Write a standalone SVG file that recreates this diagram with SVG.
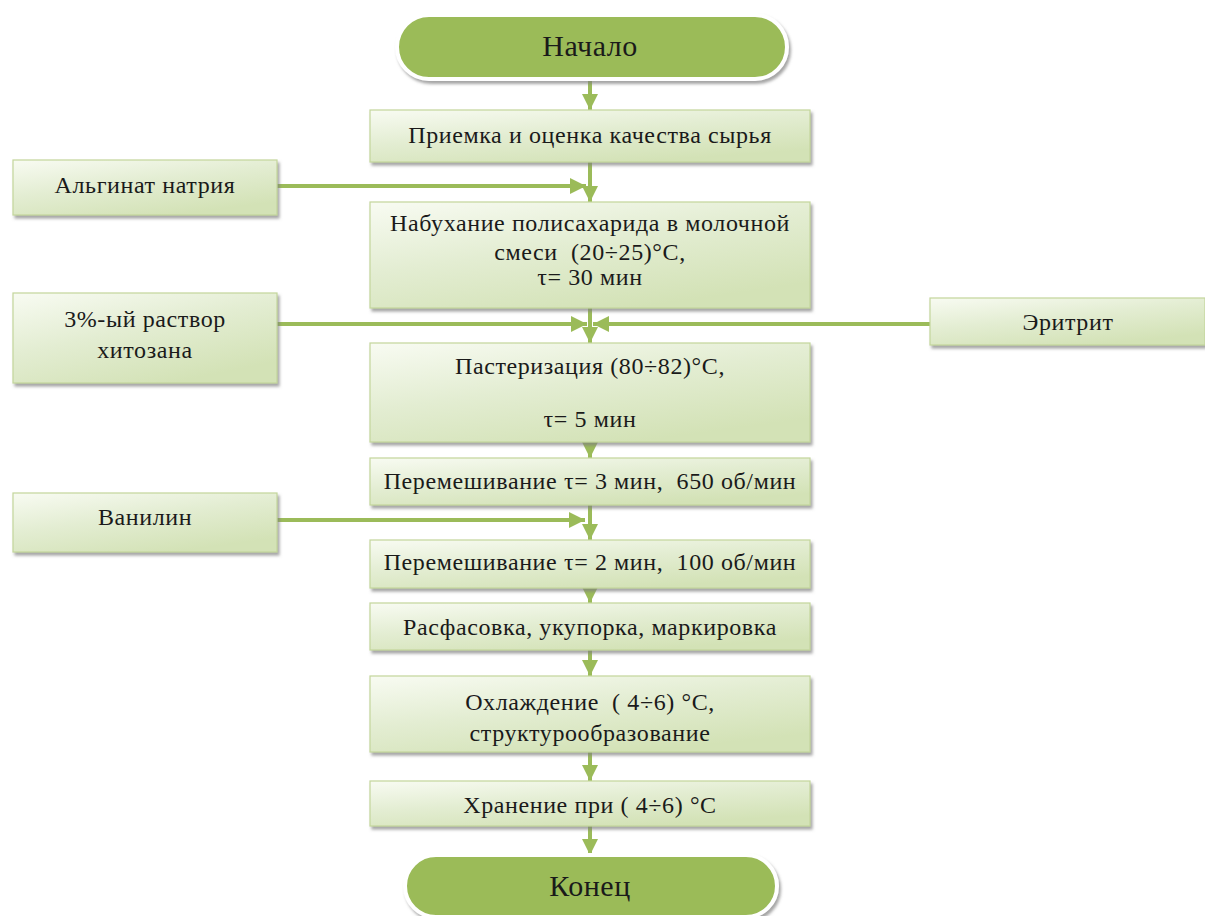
<svg xmlns="http://www.w3.org/2000/svg" width="1205" height="916" viewBox="0 0 1205 916">
<defs>
<linearGradient id="g" x1="0" y1="0" x2="0.6" y2="1">
<stop offset="0" stop-color="#f8fbf2"/>
<stop offset="0.5" stop-color="#e3edd2"/>
<stop offset="1" stop-color="#d3e2b6"/>
</linearGradient>
<filter id="sh" x="-10%" y="-20%" width="125%" height="150%">
<feDropShadow dx="2" dy="3" stdDeviation="1.5" flood-color="#7f7f7f" flood-opacity="0.7"/>
</filter>
<marker id="ah" viewBox="0 0 10 10" refX="10" refY="5" markerWidth="4" markerHeight="4" orient="auto" markerUnits="strokeWidth">
<path d="M0,0 L10,5 L0,10 z" fill="#9bbb59"/>
</marker>
</defs>
<style>
.box{fill:url(#g);stroke:#c3d69b;stroke-width:1.2;filter:url(#sh)}
.term{fill:#9bbb59;stroke:#ffffff;stroke-width:4;filter:url(#sh)}
text{font-family:"Liberation Serif","Times New Roman",serif;font-size:24px;letter-spacing:0.6px;fill:#1a1a1a;text-anchor:middle;white-space:pre}
.big{font-size:30px;letter-spacing:0.5px}
.c line{stroke:#9bbb59;stroke-width:4;marker-end:url(#ah)}
</style>
<rect width="1205" height="916" fill="#ffffff"/>
<g class="c" id="connectors">
<line x1="590" y1="80" x2="590" y2="110"/>
<line x1="590" y1="162" x2="590" y2="202"/>
<line x1="277" y1="186" x2="586" y2="186"/>
<line x1="590" y1="308" x2="590" y2="343"/>
<line x1="277" y1="324" x2="587" y2="324"/>
<line x1="930" y1="324" x2="593" y2="324"/>
<line x1="590" y1="442" x2="590" y2="458"/>
<line x1="590" y1="505" x2="590" y2="540"/>
<line x1="277" y1="520" x2="585" y2="520"/>
<line x1="590" y1="588" x2="590" y2="603"/>
<line x1="590" y1="650" x2="590" y2="676"/>
<line x1="590" y1="752" x2="590" y2="781"/>
<line x1="590" y1="826" x2="590" y2="855"/>
</g>
<g id="start"><rect class="term" x="397" y="15" width="390" height="64" rx="32"/><text class="big" x="590" y="56">Начало</text></g>
<g id="n1"><rect class="box" x="370" y="110" width="440" height="52"/><text x="590" y="143">Приемка и оценка качества сырья</text></g>
<g id="alg"><rect class="box" x="13" y="160" width="264" height="55"/><text x="145" y="193">Альгинат натрия</text></g>
<g id="n2"><rect class="box" x="370" y="202" width="440" height="106"/><text x="590" y="231">Набухание полисахарида в молочной</text><text x="590" y="260">смеси  (20÷25)°С,</text><text x="590" y="285">τ= 30 мин</text></g>
<g id="chit"><rect class="box" x="13" y="293" width="264" height="90"/><text x="145" y="327">3%-ый раствор</text><text x="145" y="358">хитозана</text></g>
<g id="erit"><rect class="box" x="930" y="298" width="275" height="47"/><text x="1068" y="330">Эритрит</text></g>
<g id="n3"><rect class="box" x="370" y="343" width="440" height="99"/><text x="590" y="374">Пастеризация (80÷82)°С,</text><text x="590" y="427">τ= 5 мин</text></g>
<g id="n4"><rect class="box" x="370" y="458" width="440" height="47"/><text x="590" y="489">Перемешивание τ= 3 мин,  650 об/мин</text></g>
<g id="van"><rect class="box" x="13" y="493" width="264" height="59"/><text x="145" y="525">Ванилин</text></g>
<g id="n5"><rect class="box" x="370" y="540" width="440" height="48"/><text x="590" y="570">Перемешивание τ= 2 мин,  100 об/мин</text></g>
<g id="n6"><rect class="box" x="370" y="603" width="440" height="47"/><text x="590" y="635">Расфасовка, укупорка, маркировка</text></g>
<g id="n7"><rect class="box" x="370" y="676" width="440" height="76"/><text x="590" y="710">Охлаждение  ( 4÷6) °С,</text><text x="590" y="741">структурообразование</text></g>
<g id="n8"><rect class="box" x="370" y="781" width="440" height="45"/><text x="590" y="813">Хранение при ( 4÷6) °С</text></g>
<g id="end"><rect class="term" x="405" y="855" width="372" height="62" rx="31"/><text class="big" x="590" y="896">Конец</text></g>
</svg>
